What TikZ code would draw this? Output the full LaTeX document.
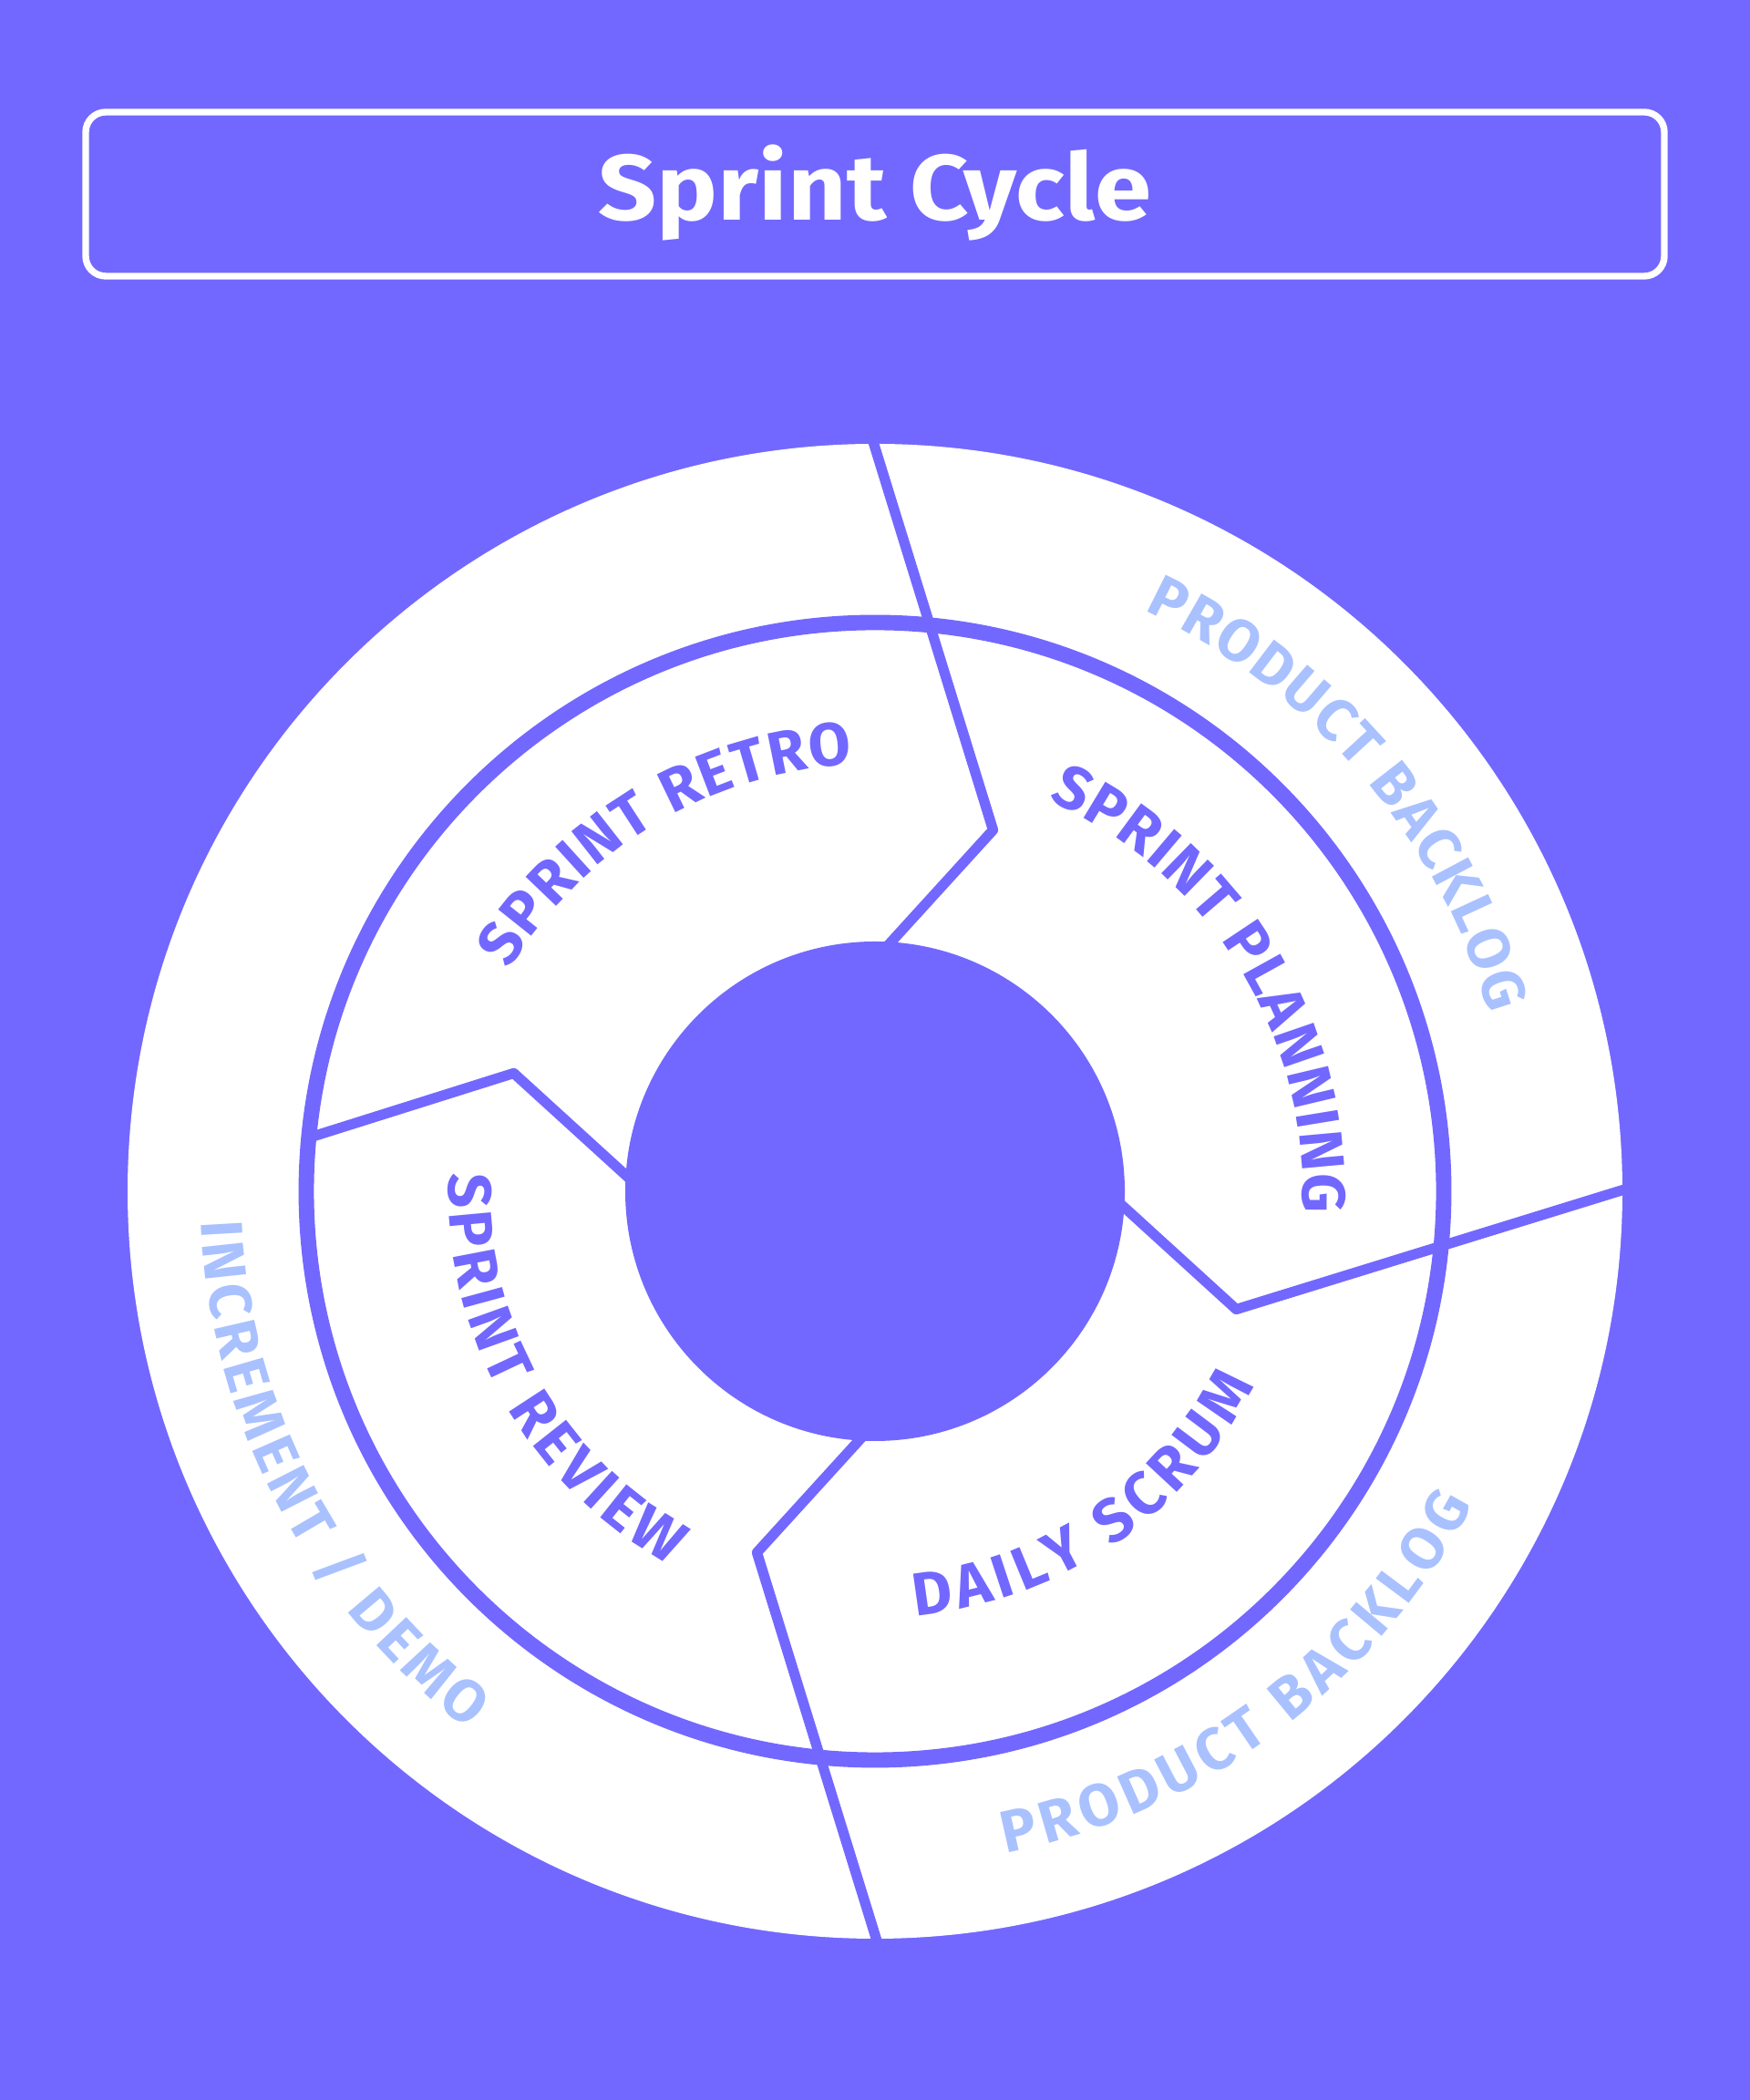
\documentclass[tikz,border=0pt]{standalone}
\usepackage{fontspec}
\setmainfont{Fira Sans}
\newfontfamily\titlefont{Fira Sans}[FakeStretch=1.1]
\usetikzlibrary{decorations.text}

\definecolor{scrumpurple}{HTML}{7268FF}
\definecolor{backlogblue}{HTML}{A9C1FF}

\begin{document}
\begin{tikzpicture}[scale=1,
  divider/.style={draw=scrumpurple, line width=3.2pt, line join=round},
  phase/.style={decorate, decoration={text along path, text align={fit to path},
    text={|\fontsize{19}{19}\selectfont\bfseries\color{scrumpurple}|#1}}},
  artifact/.style={decorate, decoration={text along path, text align={fit to path},
    text={|\fontsize{18.5}{18.5}\selectfont\bfseries\color{backlogblue}|#1}}}
]

\fill[scrumpurple] (0,0) rectangle (19.2,23.04);
\useasboundingbox (0,0) rectangle (19.2,23.04);

\draw[white, line width=2.1pt, rounded corners=0.22cm] (0.94,20.01) rectangle (18.26,21.81);
\node[white, anchor=base, font=\titlefont\fontsize{29}{29}\selectfont\bfseries] (title) at (9.60,20.62) {Sprint Cycle};

\coordinate (O) at (9.60,9.97);

\begin{scope}[shift={(O)}]

\fill[white] (0,0) circle (8.20);

\coordinate (A1) at (90.3:8.30);
\coordinate (A2) at (71.9:4.17);
\coordinate (A3) at (87:2.70);
\coordinate (B1) at (0.3:8.30);
\coordinate (B2) at (-18.1:4.17);
\coordinate (B3) at (-3:2.70);
\coordinate (C1) at (-89.7:8.30);
\coordinate (C2) at (-108.1:4.17);
\coordinate (C3) at (-93:2.70);
\coordinate (D1) at (174.6:6.24);
\coordinate (D2) at (161.9:4.17);
\coordinate (D3) at (177:2.70);

\draw[divider] (A1) -- (A2) -- (A3);
\draw[divider] (B1) -- (B2) -- (B3);
\draw[divider] (C1) -- (C2) -- (C3);
\draw[divider] (D1) -- (D2) -- (D3);

\draw[scrumpurple, line width=4.8pt] (0,0) circle (6.24);
\fill[scrumpurple] (0,0) circle (2.74);

\path[phase={SPRINT RETRO}] (148.8:4.69) arc[start angle=148.8, end angle=93.0, radius=4.69];
\path[phase={SPRINT PLANNING}] (66.1:4.69) arc[start angle=66.1, end angle=-2.9, radius=4.69];
\path[phase={DAILY SCRUM}] (-84.6:4.68) arc[start angle=-84.6, end angle=-27.1, radius=4.68];
\path[phase={SPRINT REVIEW}] (177.6:4.68) arc[start angle=177.6, end angle=241.2, radius=4.68];

\path[artifact={PRODUCT BACKLOG}] (65.1:7.02) arc[start angle=65.1, end angle=16.1, radius=7.02];
\path[artifact={PRODUCT BACKLOG}] (-78.8:7.40) arc[start angle=-78.8, end angle=-27.7, radius=7.40];
\path[artifact={INCREMENT / DEMO}] (182.6:7.40) arc[start angle=182.6, end angle=232.9, radius=7.40];

\end{scope}

\end{tikzpicture}
\end{document}
